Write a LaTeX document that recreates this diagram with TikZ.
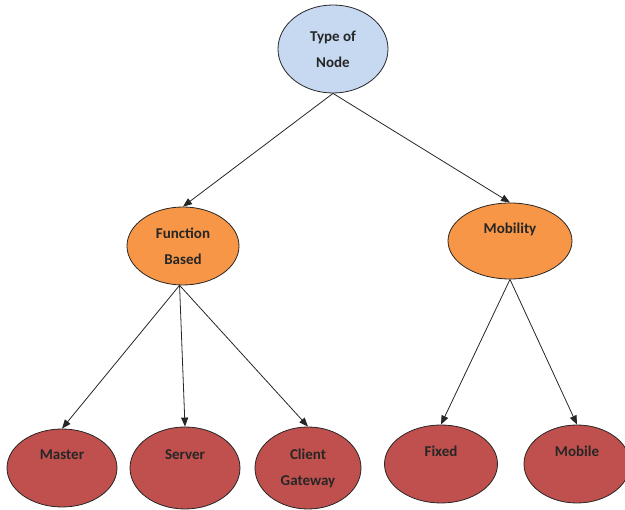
\documentclass[tikz,border=0pt]{standalone}
\usepackage{fontspec}
\setmainfont{Carlito}
\usetikzlibrary{shapes.geometric,arrows.meta}
\definecolor{topblue}{RGB}{198,217,241}
\definecolor{midorange}{RGB}{247,150,70}
\definecolor{leafred}{RGB}{192,80,77}
\begin{document}
\begin{tikzpicture}[x=1pt,y=-1pt,
  ell/.style={ellipse,draw=black!85,line width=0.8pt,inner sep=0pt,align=center,
    font=\bfseries\fontsize{15}{26}\selectfont,text=black!85},
  topnode/.style={ell,fill=topblue},
  midnode/.style={ell,fill=midorange},
  leafnode/.style={ell,fill=leafred},
  arr/.style={line width=0.8pt,black!85,-{Triangle[length=9pt,width=7pt]}}]
\useasboundingbox (0,0) rectangle (625,510);
\node[topnode,minimum width=110pt,minimum height=88pt] (tn) at (333,49) {Type of\\Node};
\node[midnode,minimum width=112pt,minimum height=78pt] (fb) at (183,246) {Function\\Based};
\node[midnode,minimum width=124pt,minimum height=76pt] (mob) at (510,241) {Mobility\\~};
\node[leafnode,minimum width=110pt,minimum height=78pt] (ma) at (62,468) {Master\\~};
\node[leafnode,minimum width=110pt,minimum height=82pt] (se) at (185,468) {Server\\~};
\node[leafnode,minimum width=106pt,minimum height=82pt] (cg) at (308,468) {Client\\Gateway};
\node[leafnode,minimum width=113pt,minimum height=78pt] (fx) at (441,464) {Fixed\\~};
\node[leafnode,minimum width=106pt,minimum height=78pt] (mo) at (577,464) {Mobile\\~};
\draw[arr] (tn.south) -- (fb.north);
\draw[arr] (tn.south) -- (mob.north);
\draw[arr] (fb.265) -- (ma.north);
\draw[arr] (fb.265) -- (se.north);
\draw[arr] (fb.265) -- (cg.north);
\draw[arr] (mob.south) -- (fx.north);
\draw[arr] (mob.south) -- (mo.north);
\end{tikzpicture}
\end{document}
